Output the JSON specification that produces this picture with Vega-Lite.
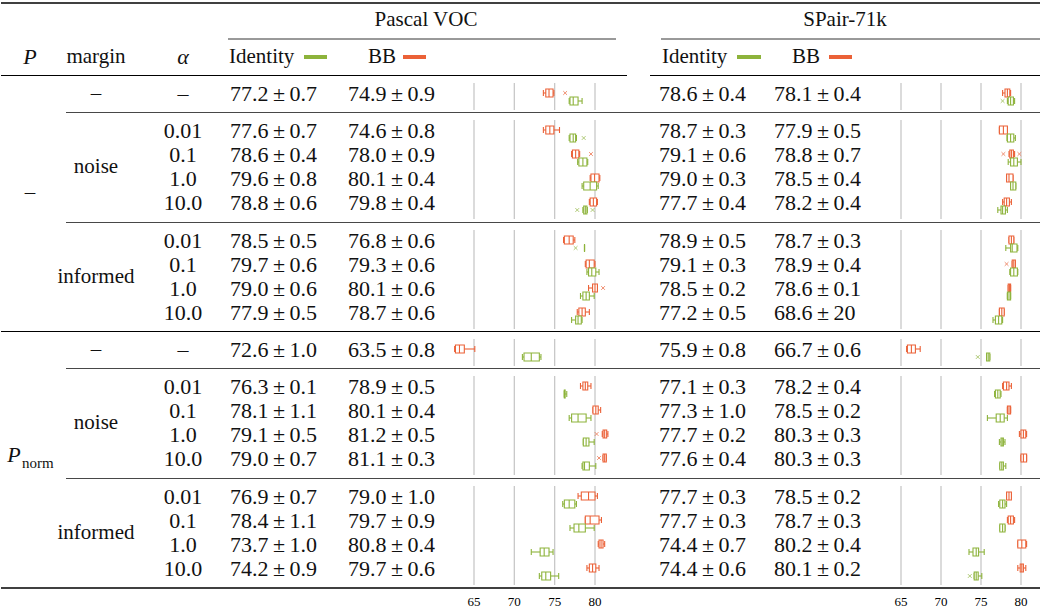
{
"$schema":"https://vega.github.io/schema/vega-lite/v6.json",
"width":1040,"height":609,"padding":0,
"autosize":{"type":"fit","contains":"padding"},
"background":"white",
"config":{"font":"Liberation Serif","view":{"stroke":null},"text":{"font":"Liberation Serif","fontSize":21,"color":"#111111","baseline":"middle"}},
"datasets":{
"rows":[
{"row":1,"P":"–","margin":"–","alpha":"–","grp":"g1"},
{"row":2,"P":"–","margin":"noise","alpha":"0.01","grp":"g2"},
{"row":3,"P":"–","margin":"noise","alpha":"0.1","grp":"g2"},
{"row":4,"P":"–","margin":"noise","alpha":"1.0","grp":"g2"},
{"row":5,"P":"–","margin":"noise","alpha":"10.0","grp":"g2"},
{"row":6,"P":"–","margin":"informed","alpha":"0.01","grp":"g3"},
{"row":7,"P":"–","margin":"informed","alpha":"0.1","grp":"g3"},
{"row":8,"P":"–","margin":"informed","alpha":"1.0","grp":"g3"},
{"row":9,"P":"–","margin":"informed","alpha":"10.0","grp":"g3"},
{"row":10,"P":"Pnorm","margin":"–","alpha":"–","grp":"g4"},
{"row":11,"P":"Pnorm","margin":"noise","alpha":"0.01","grp":"g5"},
{"row":12,"P":"Pnorm","margin":"noise","alpha":"0.1","grp":"g5"},
{"row":13,"P":"Pnorm","margin":"noise","alpha":"1.0","grp":"g5"},
{"row":14,"P":"Pnorm","margin":"noise","alpha":"10.0","grp":"g5"},
{"row":15,"P":"Pnorm","margin":"informed","alpha":"0.01","grp":"g6"},
{"row":16,"P":"Pnorm","margin":"informed","alpha":"0.1","grp":"g6"},
{"row":17,"P":"Pnorm","margin":"informed","alpha":"1.0","grp":"g6"},
{"row":18,"P":"Pnorm","margin":"informed","alpha":"10.0","grp":"g6"}
],
"res":[
{"row":1,"ds":"VOC","m":"Identity","mean":77.2,"sd":0.7,"lo":76.8,"q1":76.9,"med":77.3,"q3":77.9,"hi":78.4},
{"row":2,"ds":"VOC","m":"Identity","mean":77.6,"sd":0.7,"lo":76.8,"q1":76.9,"med":77.3,"q3":77.6,"hi":77.7},
{"row":3,"ds":"VOC","m":"Identity","mean":78.6,"sd":0.4,"lo":77.85,"q1":78.0,"med":78.5,"q3":79.0,"hi":79.1},
{"row":4,"ds":"VOC","m":"Identity","mean":79.6,"sd":0.8,"lo":78.4,"q1":78.6,"med":79.4,"q3":80.2,"hi":80.4},
{"row":5,"ds":"VOC","m":"Identity","mean":78.8,"sd":0.6,"lo":78.5,"q1":78.6,"med":78.8,"q3":79.0,"hi":79.05},
{"row":6,"ds":"VOC","m":"Identity","mean":78.5,"sd":0.5,"lo":78.7,"q1":78.7,"med":78.7,"q3":78.7,"hi":78.7},
{"row":7,"ds":"VOC","m":"Identity","mean":79.7,"sd":0.6,"lo":79.0,"q1":79.2,"med":79.6,"q3":80.1,"hi":80.5},
{"row":8,"ds":"VOC","m":"Identity","mean":79.0,"sd":0.6,"lo":78.2,"q1":78.5,"med":78.9,"q3":79.3,"hi":79.9},
{"row":9,"ds":"VOC","m":"Identity","mean":77.9,"sd":0.5,"lo":77.1,"q1":77.6,"med":77.9,"q3":78.3,"hi":78.4},
{"row":10,"ds":"VOC","m":"Identity","mean":72.6,"sd":1.0,"lo":71.0,"q1":71.2,"med":72.1,"q3":73.1,"hi":73.3},
{"row":11,"ds":"VOC","m":"Identity","mean":76.3,"sd":0.1,"lo":76.2,"q1":76.2,"med":76.2,"q3":76.3,"hi":76.5},
{"row":12,"ds":"VOC","m":"Identity","mean":78.1,"sd":1.1,"lo":76.8,"q1":77.1,"med":77.9,"q3":78.9,"hi":79.5},
{"row":13,"ds":"VOC","m":"Identity","mean":79.1,"sd":0.5,"lo":78.55,"q1":78.55,"med":78.9,"q3":79.25,"hi":79.9},
{"row":14,"ds":"VOC","m":"Identity","mean":79.0,"sd":0.7,"lo":78.4,"q1":78.5,"med":78.7,"q3":79.3,"hi":80.1},
{"row":15,"ds":"VOC","m":"Identity","mean":76.9,"sd":0.7,"lo":76.0,"q1":76.2,"med":76.8,"q3":77.5,"hi":77.7},
{"row":16,"ds":"VOC","m":"Identity","mean":78.4,"sd":1.1,"lo":76.9,"q1":77.4,"med":78.0,"q3":78.8,"hi":79.9},
{"row":17,"ds":"VOC","m":"Identity","mean":73.7,"sd":1.0,"lo":72.1,"q1":73.2,"med":73.7,"q3":74.3,"hi":74.8},
{"row":18,"ds":"VOC","m":"Identity","mean":74.2,"sd":0.9,"lo":73.1,"q1":73.4,"med":73.9,"q3":74.5,"hi":75.5},
{"row":1,"ds":"VOC","m":"BB","mean":74.9,"sd":0.9,"lo":73.6,"q1":73.9,"med":74.3,"q3":74.8,"hi":74.9},
{"row":2,"ds":"VOC","m":"BB","mean":74.6,"sd":0.8,"lo":73.6,"q1":73.9,"med":74.4,"q3":74.9,"hi":75.6},
{"row":3,"ds":"VOC","m":"BB","mean":78.0,"sd":0.9,"lo":77.1,"q1":77.2,"med":77.6,"q3":78.0,"hi":78.1},
{"row":4,"ds":"VOC","m":"BB","mean":80.1,"sd":0.4,"lo":79.4,"q1":79.5,"med":79.95,"q3":80.5,"hi":80.6},
{"row":5,"ds":"VOC","m":"BB","mean":79.8,"sd":0.4,"lo":79.3,"q1":79.4,"med":79.8,"q3":80.2,"hi":80.3},
{"row":6,"ds":"VOC","m":"BB","mean":76.8,"sd":0.6,"lo":76.1,"q1":76.2,"med":76.8,"q3":77.3,"hi":77.5},
{"row":7,"ds":"VOC","m":"BB","mean":79.3,"sd":0.6,"lo":78.8,"q1":78.9,"med":79.3,"q3":79.9,"hi":80.0},
{"row":8,"ds":"VOC","m":"BB","mean":80.1,"sd":0.6,"lo":79.2,"q1":79.7,"med":80.0,"q3":80.3,"hi":80.3},
{"row":9,"ds":"VOC","m":"BB","mean":78.7,"sd":0.6,"lo":77.8,"q1":78.0,"med":78.4,"q3":78.8,"hi":79.3},
{"row":10,"ds":"VOC","m":"BB","mean":63.5,"sd":0.8,"lo":62.6,"q1":62.7,"med":63.2,"q3":63.8,"hi":65.1},
{"row":11,"ds":"VOC","m":"BB","mean":78.9,"sd":0.5,"lo":78.2,"q1":78.5,"med":78.8,"q3":79.1,"hi":79.5},
{"row":12,"ds":"VOC","m":"BB","mean":80.1,"sd":0.4,"lo":79.75,"q1":79.75,"med":80.1,"q3":80.4,"hi":80.7},
{"row":13,"ds":"VOC","m":"BB","mean":81.2,"sd":0.5,"lo":80.9,"q1":81.0,"med":81.2,"q3":81.45,"hi":81.6},
{"row":14,"ds":"VOC","m":"BB","mean":81.1,"sd":0.3,"lo":81.0,"q1":81.0,"med":81.2,"q3":81.4,"hi":81.4},
{"row":15,"ds":"VOC","m":"BB","mean":79.0,"sd":1.0,"lo":77.9,"q1":78.3,"med":79.2,"q3":80.0,"hi":80.3},
{"row":16,"ds":"VOC","m":"BB","mean":79.7,"sd":0.9,"lo":78.8,"q1":78.8,"med":79.4,"q3":80.5,"hi":80.8},
{"row":17,"ds":"VOC","m":"BB","mean":80.8,"sd":0.4,"lo":80.4,"q1":80.5,"med":80.75,"q3":81.0,"hi":81.2},
{"row":18,"ds":"VOC","m":"BB","mean":79.7,"sd":0.6,"lo":79.0,"q1":79.3,"med":79.7,"q3":80.1,"hi":80.5},
{"row":1,"ds":"SPair","m":"Identity","mean":78.6,"sd":0.4,"lo":78.3,"q1":78.4,"med":78.7,"q3":79.05,"hi":79.2},
{"row":2,"ds":"SPair","m":"Identity","mean":78.7,"sd":0.3,"lo":78.25,"q1":78.3,"med":78.7,"q3":79.1,"hi":79.3},
{"row":3,"ds":"SPair","m":"Identity","mean":79.1,"sd":0.6,"lo":78.4,"q1":78.7,"med":79.1,"q3":79.55,"hi":80.0},
{"row":4,"ds":"SPair","m":"Identity","mean":79.0,"sd":0.3,"lo":78.7,"q1":78.7,"med":79.0,"q3":79.35,"hi":79.35},
{"row":5,"ds":"SPair","m":"Identity","mean":77.7,"sd":0.4,"lo":77.1,"q1":77.5,"med":77.7,"q3":78.05,"hi":78.3},
{"row":6,"ds":"SPair","m":"Identity","mean":78.9,"sd":0.5,"lo":78.1,"q1":78.7,"med":78.9,"q3":79.5,"hi":79.6},
{"row":7,"ds":"SPair","m":"Identity","mean":79.1,"sd":0.3,"lo":78.6,"q1":78.7,"med":79.1,"q3":79.55,"hi":79.6},
{"row":8,"ds":"SPair","m":"Identity","mean":78.5,"sd":0.2,"lo":78.3,"q1":78.3,"med":78.5,"q3":78.7,"hi":78.7},
{"row":9,"ds":"SPair","m":"Identity","mean":77.2,"sd":0.5,"lo":76.5,"q1":76.8,"med":77.2,"q3":77.6,"hi":77.7},
{"row":10,"ds":"SPair","m":"Identity","mean":75.9,"sd":0.8,"lo":75.7,"q1":75.7,"med":75.9,"q3":76.1,"hi":76.1},
{"row":11,"ds":"SPair","m":"Identity","mean":77.1,"sd":0.3,"lo":76.7,"q1":76.8,"med":77.1,"q3":77.4,"hi":77.5},
{"row":12,"ds":"SPair","m":"Identity","mean":77.3,"sd":1.0,"lo":75.8,"q1":76.9,"med":77.4,"q3":77.9,"hi":78.3},
{"row":13,"ds":"SPair","m":"Identity","mean":77.7,"sd":0.2,"lo":77.3,"q1":77.5,"med":77.65,"q3":77.8,"hi":78.0},
{"row":14,"ds":"SPair","m":"Identity","mean":77.6,"sd":0.4,"lo":77.35,"q1":77.35,"med":77.6,"q3":77.8,"hi":78.1},
{"row":15,"ds":"SPair","m":"Identity","mean":77.7,"sd":0.3,"lo":77.2,"q1":77.35,"med":77.7,"q3":78.0,"hi":78.2},
{"row":16,"ds":"SPair","m":"Identity","mean":77.7,"sd":0.3,"lo":77.35,"q1":77.35,"med":77.7,"q3":78.0,"hi":78.0},
{"row":17,"ds":"SPair","m":"Identity","mean":74.4,"sd":0.7,"lo":73.5,"q1":74.0,"med":74.4,"q3":74.7,"hi":75.4},
{"row":18,"ds":"SPair","m":"Identity","mean":74.4,"sd":0.6,"lo":74.15,"q1":74.15,"med":74.4,"q3":74.65,"hi":75.1},
{"row":1,"ds":"SPair","m":"BB","mean":78.1,"sd":0.4,"lo":77.7,"q1":78.0,"med":78.3,"q3":78.6,"hi":78.7},
{"row":2,"ds":"SPair","m":"BB","mean":77.9,"sd":0.5,"lo":77.3,"q1":77.3,"med":77.8,"q3":78.3,"hi":78.3},
{"row":3,"ds":"SPair","m":"BB","mean":78.8,"sd":0.7,"lo":78.5,"q1":78.6,"med":78.8,"q3":79.05,"hi":79.2},
{"row":4,"ds":"SPair","m":"BB","mean":78.5,"sd":0.4,"lo":78.2,"q1":78.2,"med":78.5,"q3":79.0,"hi":79.0},
{"row":5,"ds":"SPair","m":"BB","mean":78.2,"sd":0.4,"lo":77.7,"q1":77.9,"med":78.2,"q3":78.55,"hi":78.8},
{"row":6,"ds":"SPair","m":"BB","mean":78.7,"sd":0.3,"lo":78.5,"q1":78.5,"med":78.8,"q3":79.1,"hi":79.1},
{"row":7,"ds":"SPair","m":"BB","mean":78.9,"sd":0.4,"lo":78.9,"q1":78.9,"med":79.1,"q3":79.3,"hi":79.3},
{"row":8,"ds":"SPair","m":"BB","mean":78.6,"sd":0.1,"lo":78.4,"q1":78.4,"med":78.55,"q3":78.7,"hi":78.7},
{"row":9,"ds":"SPair","m":"BB","mean":68.6,"sd":20,"lo":77.3,"q1":77.3,"med":77.6,"q3":77.9,"hi":77.9},
{"row":10,"ds":"SPair","m":"BB","mean":66.7,"sd":0.6,"lo":65.7,"q1":65.8,"med":66.3,"q3":66.8,"hi":67.4},
{"row":11,"ds":"SPair","m":"BB","mean":78.2,"sd":0.4,"lo":77.7,"q1":77.8,"med":78.2,"q3":78.5,"hi":78.8},
{"row":12,"ds":"SPair","m":"BB","mean":78.5,"sd":0.2,"lo":78.3,"q1":78.3,"med":78.5,"q3":78.7,"hi":78.7},
{"row":13,"ds":"SPair","m":"BB","mean":80.3,"sd":0.3,"lo":79.8,"q1":80.0,"med":80.3,"q3":80.6,"hi":80.7},
{"row":14,"ds":"SPair","m":"BB","mean":80.3,"sd":0.3,"lo":80.0,"q1":80.0,"med":80.3,"q3":80.7,"hi":80.7},
{"row":15,"ds":"SPair","m":"BB","mean":78.5,"sd":0.2,"lo":78.2,"q1":78.2,"med":78.5,"q3":78.8,"hi":78.8},
{"row":16,"ds":"SPair","m":"BB","mean":78.7,"sd":0.3,"lo":78.3,"q1":78.4,"med":78.7,"q3":79.05,"hi":79.2},
{"row":17,"ds":"SPair","m":"BB","mean":80.2,"sd":0.4,"lo":79.6,"q1":79.6,"med":80.1,"q3":80.6,"hi":80.7},
{"row":18,"ds":"SPair","m":"BB","mean":80.1,"sd":0.2,"lo":79.6,"q1":79.9,"med":80.1,"q3":80.3,"hi":80.6}
],
"out":[
{"row":1,"ds":"VOC","m":"BB","v":76.3},
{"row":3,"ds":"VOC","m":"BB","v":79.5},
{"row":8,"ds":"VOC","m":"BB","v":81.0},
{"row":13,"ds":"VOC","m":"BB","v":80.2},
{"row":14,"ds":"VOC","m":"BB","v":80.5},
{"row":2,"ds":"VOC","m":"Identity","v":78.6},
{"row":5,"ds":"VOC","m":"Identity","v":77.8},
{"row":5,"ds":"VOC","m":"Identity","v":79.7},
{"row":6,"ds":"VOC","m":"Identity","v":77.6},
{"row":3,"ds":"SPair","m":"BB","v":77.8},
{"row":3,"ds":"SPair","m":"BB","v":79.8},
{"row":7,"ds":"SPair","m":"BB","v":78.2},
{"row":1,"ds":"SPair","m":"Identity","v":77.7},
{"row":10,"ds":"SPair","m":"Identity","v":74.6},
{"row":18,"ds":"SPair","m":"Identity","v":73.6}
],
"ticks":[{"t":65},{"t":70},{"t":75},{"t":80}]
},
"resolve":{"scale":{"x":"independent"}},
"layer":[
{"layer":[
{"data":{"values":[{}]},"mark":{"type":"rule","color":"#000000","strokeWidth":1.6},"encoding":{"x":{"datum":0,"type":"quantitative","scale":{"domain":[0,1040],"range":[0,1040],"nice":false,"zero":false},"axis":null},"x2":{"datum":1040},"y":{"datum":-1.5,"type":"quantitative","scale":{"domain":[-1.5,-1,-0.5,0,1,2,5,6,9,10,11,14,15,18,18.5,19],"range":[3,20,39,57,94,131,203,241,313,350,387,459,497,569,588,602],"nice":false,"zero":false},"axis":null}}},
{"data":{"values":[{}]},"mark":{"type":"rule","color":"#000000","strokeWidth":0.8},"encoding":{"x":{"datum":227,"type":"quantitative","scale":{"domain":[0,1040],"range":[0,1040],"nice":false,"zero":false},"axis":null},"x2":{"datum":615},"y":{"datum":-0.5,"type":"quantitative","scale":{"domain":[-1.5,-1,-0.5,0,1,2,5,6,9,10,11,14,15,18,18.5,19],"range":[3,20,39,57,94,131,203,241,313,350,387,459,497,569,588,602],"nice":false,"zero":false},"axis":null}}},
{"data":{"values":[{}]},"mark":{"type":"rule","color":"#000000","strokeWidth":0.8},"encoding":{"x":{"datum":660,"type":"quantitative","scale":{"domain":[0,1040],"range":[0,1040],"nice":false,"zero":false},"axis":null},"x2":{"datum":1040},"y":{"datum":-0.5,"type":"quantitative","scale":{"domain":[-1.5,-1,-0.5,0,1,2,5,6,9,10,11,14,15,18,18.5,19],"range":[3,20,39,57,94,131,203,241,313,350,387,459,497,569,588,602],"nice":false,"zero":false},"axis":null}}},
{"data":{"values":[{}]},"mark":{"type":"rule","color":"#000000","strokeWidth":1.0},"encoding":{"x":{"datum":0,"type":"quantitative","scale":{"domain":[0,1040],"range":[0,1040],"nice":false,"zero":false},"axis":null},"x2":{"datum":626},"y":{"datum":0.5,"type":"quantitative","scale":{"domain":[-1.5,-1,-0.5,0,1,2,5,6,9,10,11,14,15,18,18.5,19],"range":[3,20,39,57,94,131,203,241,313,350,387,459,497,569,588,602],"nice":false,"zero":false},"axis":null}}},
{"data":{"values":[{}]},"mark":{"type":"rule","color":"#000000","strokeWidth":1.0},"encoding":{"x":{"datum":649,"type":"quantitative","scale":{"domain":[0,1040],"range":[0,1040],"nice":false,"zero":false},"axis":null},"x2":{"datum":1040},"y":{"datum":0.5,"type":"quantitative","scale":{"domain":[-1.5,-1,-0.5,0,1,2,5,6,9,10,11,14,15,18,18.5,19],"range":[3,20,39,57,94,131,203,241,313,350,387,459,497,569,588,602],"nice":false,"zero":false},"axis":null}}},
{"data":{"values":[{}]},"mark":{"type":"rule","color":"#000000","strokeWidth":1.0},"encoding":{"x":{"datum":0,"type":"quantitative","scale":{"domain":[0,1040],"range":[0,1040],"nice":false,"zero":false},"axis":null},"x2":{"datum":1040},"y":{"datum":9.5,"type":"quantitative","scale":{"domain":[-1.5,-1,-0.5,0,1,2,5,6,9,10,11,14,15,18,18.5,19],"range":[3,20,39,57,94,131,203,241,313,350,387,459,497,569,588,602],"nice":false,"zero":false},"axis":null}}},
{"data":{"values":[{}]},"mark":{"type":"rule","color":"#000000","strokeWidth":1.6},"encoding":{"x":{"datum":0,"type":"quantitative","scale":{"domain":[0,1040],"range":[0,1040],"nice":false,"zero":false},"axis":null},"x2":{"datum":1040},"y":{"datum":18.5,"type":"quantitative","scale":{"domain":[-1.5,-1,-0.5,0,1,2,5,6,9,10,11,14,15,18,18.5,19],"range":[3,20,39,57,94,131,203,241,313,350,387,459,497,569,588,602],"nice":false,"zero":false},"axis":null}}},
{"data":{"name":"rows"},"transform":[{"filter":"datum.margin != '–'"}],"mark":{"type":"rule","color":"#333333","strokeWidth":0.9,"yOffset":-18.5},"encoding":{"x":{"datum":65,"type":"quantitative","scale":{"domain":[0,1040],"range":[0,1040],"nice":false,"zero":false},"axis":null},"x2":{"datum":1040},"y":{"field":"row","aggregate":"min","type":"quantitative","scale":{"domain":[-1.5,-1,-0.5,0,1,2,5,6,9,10,11,14,15,18,18.5,19],"range":[3,20,39,57,94,131,203,241,313,350,387,459,497,569,588,602],"nice":false,"zero":false},"axis":null},"detail":{"field":"grp"}}},
{"data":{"values":[{}]},"mark":{"type":"text","align":"center"},"encoding":{"x":{"datum":425,"type":"quantitative","scale":{"domain":[0,1040],"range":[0,1040],"nice":false,"zero":false},"axis":null},"y":{"datum":-1,"type":"quantitative","scale":{"domain":[-1.5,-1,-0.5,0,1,2,5,6,9,10,11,14,15,18,18.5,19],"range":[3,20,39,57,94,131,203,241,313,350,387,459,497,569,588,602],"nice":false,"zero":false},"axis":null},"text":{"value":"Pascal VOC"}}},
{"data":{"values":[{}]},"mark":{"type":"text","align":"center"},"encoding":{"x":{"datum":844,"type":"quantitative","scale":{"domain":[0,1040],"range":[0,1040],"nice":false,"zero":false},"axis":null},"y":{"datum":-1,"type":"quantitative","scale":{"domain":[-1.5,-1,-0.5,0,1,2,5,6,9,10,11,14,15,18,18.5,19],"range":[3,20,39,57,94,131,203,241,313,350,387,459,497,569,588,602],"nice":false,"zero":false},"axis":null},"text":{"value":"SPair-71k"}}},
{"data":{"values":[{}]},"mark":{"type":"text","align":"center","fontStyle":"italic","fontSize":22},"encoding":{"x":{"datum":29,"type":"quantitative","scale":{"domain":[0,1040],"range":[0,1040],"nice":false,"zero":false},"axis":null},"y":{"datum":0,"type":"quantitative","scale":{"domain":[-1.5,-1,-0.5,0,1,2,5,6,9,10,11,14,15,18,18.5,19],"range":[3,20,39,57,94,131,203,241,313,350,387,459,497,569,588,602],"nice":false,"zero":false},"axis":null},"text":{"value":"P"}}},
{"data":{"values":[{}]},"mark":{"type":"text","align":"center"},"encoding":{"x":{"datum":95,"type":"quantitative","scale":{"domain":[0,1040],"range":[0,1040],"nice":false,"zero":false},"axis":null},"y":{"datum":0,"type":"quantitative","scale":{"domain":[-1.5,-1,-0.5,0,1,2,5,6,9,10,11,14,15,18,18.5,19],"range":[3,20,39,57,94,131,203,241,313,350,387,459,497,569,588,602],"nice":false,"zero":false},"axis":null},"text":{"value":"margin"}}},
{"data":{"values":[{}]},"mark":{"type":"text","align":"center","fontStyle":"italic","fontSize":22},"encoding":{"x":{"datum":182,"type":"quantitative","scale":{"domain":[0,1040],"range":[0,1040],"nice":false,"zero":false},"axis":null},"y":{"datum":0,"type":"quantitative","scale":{"domain":[-1.5,-1,-0.5,0,1,2,5,6,9,10,11,14,15,18,18.5,19],"range":[3,20,39,57,94,131,203,241,313,350,387,459,497,569,588,602],"nice":false,"zero":false},"axis":null},"text":{"value":"α"}}},
{"data":{"values":[{}]},"mark":{"type":"text","align":"left"},"encoding":{"x":{"datum":228,"type":"quantitative","scale":{"domain":[0,1040],"range":[0,1040],"nice":false,"zero":false},"axis":null},"y":{"datum":0,"type":"quantitative","scale":{"domain":[-1.5,-1,-0.5,0,1,2,5,6,9,10,11,14,15,18,18.5,19],"range":[3,20,39,57,94,131,203,241,313,350,387,459,497,569,588,602],"nice":false,"zero":false},"axis":null},"text":{"value":"Identity"}}},
{"data":{"values":[{}]},"mark":{"type":"text","align":"left"},"encoding":{"x":{"datum":367,"type":"quantitative","scale":{"domain":[0,1040],"range":[0,1040],"nice":false,"zero":false},"axis":null},"y":{"datum":0,"type":"quantitative","scale":{"domain":[-1.5,-1,-0.5,0,1,2,5,6,9,10,11,14,15,18,18.5,19],"range":[3,20,39,57,94,131,203,241,313,350,387,459,497,569,588,602],"nice":false,"zero":false},"axis":null},"text":{"value":"BB"}}},
{"data":{"values":[{}]},"mark":{"type":"text","align":"left"},"encoding":{"x":{"datum":661,"type":"quantitative","scale":{"domain":[0,1040],"range":[0,1040],"nice":false,"zero":false},"axis":null},"y":{"datum":0,"type":"quantitative","scale":{"domain":[-1.5,-1,-0.5,0,1,2,5,6,9,10,11,14,15,18,18.5,19],"range":[3,20,39,57,94,131,203,241,313,350,387,459,497,569,588,602],"nice":false,"zero":false},"axis":null},"text":{"value":"Identity"}}},
{"data":{"values":[{}]},"mark":{"type":"text","align":"left"},"encoding":{"x":{"datum":791,"type":"quantitative","scale":{"domain":[0,1040],"range":[0,1040],"nice":false,"zero":false},"axis":null},"y":{"datum":0,"type":"quantitative","scale":{"domain":[-1.5,-1,-0.5,0,1,2,5,6,9,10,11,14,15,18,18.5,19],"range":[3,20,39,57,94,131,203,241,313,350,387,459,497,569,588,602],"nice":false,"zero":false},"axis":null},"text":{"value":"BB"}}},
{"data":{"values":[{}]},"mark":{"type":"rule","color":"#8db33b","strokeWidth":4},"encoding":{"x":{"datum":303,"type":"quantitative","scale":{"domain":[0,1040],"range":[0,1040],"nice":false,"zero":false},"axis":null},"x2":{"datum":326},"y":{"datum":0,"type":"quantitative","scale":{"domain":[-1.5,-1,-0.5,0,1,2,5,6,9,10,11,14,15,18,18.5,19],"range":[3,20,39,57,94,131,203,241,313,350,387,459,497,569,588,602],"nice":false,"zero":false},"axis":null}}},
{"data":{"values":[{}]},"mark":{"type":"rule","color":"#eb6137","strokeWidth":4},"encoding":{"x":{"datum":402,"type":"quantitative","scale":{"domain":[0,1040],"range":[0,1040],"nice":false,"zero":false},"axis":null},"x2":{"datum":425},"y":{"datum":0,"type":"quantitative","scale":{"domain":[-1.5,-1,-0.5,0,1,2,5,6,9,10,11,14,15,18,18.5,19],"range":[3,20,39,57,94,131,203,241,313,350,387,459,497,569,588,602],"nice":false,"zero":false},"axis":null}}},
{"data":{"values":[{}]},"mark":{"type":"rule","color":"#8db33b","strokeWidth":4},"encoding":{"x":{"datum":736,"type":"quantitative","scale":{"domain":[0,1040],"range":[0,1040],"nice":false,"zero":false},"axis":null},"x2":{"datum":760},"y":{"datum":0,"type":"quantitative","scale":{"domain":[-1.5,-1,-0.5,0,1,2,5,6,9,10,11,14,15,18,18.5,19],"range":[3,20,39,57,94,131,203,241,313,350,387,459,497,569,588,602],"nice":false,"zero":false},"axis":null}}},
{"data":{"values":[{}]},"mark":{"type":"rule","color":"#eb6137","strokeWidth":4},"encoding":{"x":{"datum":828,"type":"quantitative","scale":{"domain":[0,1040],"range":[0,1040],"nice":false,"zero":false},"axis":null},"x2":{"datum":851},"y":{"datum":0,"type":"quantitative","scale":{"domain":[-1.5,-1,-0.5,0,1,2,5,6,9,10,11,14,15,18,18.5,19],"range":[3,20,39,57,94,131,203,241,313,350,387,459,497,569,588,602],"nice":false,"zero":false},"axis":null}}},
{"data":{"name":"rows"},"mark":{"type":"text","align":"center","fontSize":22},"encoding":{"x":{"datum":182,"type":"quantitative","scale":{"domain":[0,1040],"range":[0,1040],"nice":false,"zero":false},"axis":null},"y":{"field":"row","type":"quantitative","scale":{"domain":[-1.5,-1,-0.5,0,1,2,5,6,9,10,11,14,15,18,18.5,19],"range":[3,20,39,57,94,131,203,241,313,350,387,459,497,569,588,602],"nice":false,"zero":false},"axis":null},"text":{"field":"alpha"}}},
{"data":{"name":"rows"},"mark":{"type":"text","align":"center"},"encoding":{"x":{"datum":95,"type":"quantitative","scale":{"domain":[0,1040],"range":[0,1040],"nice":false,"zero":false},"axis":null},"y":{"field":"row","aggregate":"mean","type":"quantitative","scale":{"domain":[-1.5,-1,-0.5,0,1,2,5,6,9,10,11,14,15,18,18.5,19],"range":[3,20,39,57,94,131,203,241,313,350,387,459,497,569,588,602],"nice":false,"zero":false},"axis":null},"text":{"field":"margin"},"detail":{"field":"P"}}},
{"data":{"name":"rows"},"transform":[{"filter":"datum.P == '–'"}],"mark":{"type":"text","align":"center","dy":-10},"encoding":{"x":{"datum":29,"type":"quantitative","scale":{"domain":[0,1040],"range":[0,1040],"nice":false,"zero":false},"axis":null},"y":{"field":"row","aggregate":"mean","type":"quantitative","scale":{"domain":[-1.5,-1,-0.5,0,1,2,5,6,9,10,11,14,15,18,18.5,19],"range":[3,20,39,57,94,131,203,241,313,350,387,459,497,569,588,602],"nice":false,"zero":false},"axis":null},"text":{"field":"P"}}},
{"data":{"name":"rows"},"transform":[{"filter":"datum.P == 'Pnorm'"}],"mark":{"type":"text","align":"center","fontStyle":"italic","fontSize":22,"dy":-4},"encoding":{"x":{"datum":13,"type":"quantitative","scale":{"domain":[0,1040],"range":[0,1040],"nice":false,"zero":false},"axis":null},"y":{"field":"row","aggregate":"mean","type":"quantitative","scale":{"domain":[-1.5,-1,-0.5,0,1,2,5,6,9,10,11,14,15,18,18.5,19],"range":[3,20,39,57,94,131,203,241,313,350,387,459,497,569,588,602],"nice":false,"zero":false},"axis":null},"text":{"value":"P"}}},
{"data":{"name":"rows"},"transform":[{"filter":"datum.P == 'Pnorm'"}],"mark":{"type":"text","align":"left","fontSize":15,"dy":4},"encoding":{"x":{"datum":21,"type":"quantitative","scale":{"domain":[0,1040],"range":[0,1040],"nice":false,"zero":false},"axis":null},"y":{"field":"row","aggregate":"mean","type":"quantitative","scale":{"domain":[-1.5,-1,-0.5,0,1,2,5,6,9,10,11,14,15,18,18.5,19],"range":[3,20,39,57,94,131,203,241,313,350,387,459,497,569,588,602],"nice":false,"zero":false},"axis":null},"text":{"value":"norm"}}},
{"data":{"name":"res"},"transform":[{"filter":"datum.ds=='VOC' && datum.m=='Identity'"}],"mark":{"type":"text","align":"right","fontSize":22},"encoding":{"x":{"datum":267.5,"type":"quantitative","scale":{"domain":[0,1040],"range":[0,1040],"nice":false,"zero":false},"axis":null},"y":{"field":"row","type":"quantitative","scale":{"domain":[-1.5,-1,-0.5,0,1,2,5,6,9,10,11,14,15,18,18.5,19],"range":[3,20,39,57,94,131,203,241,313,350,387,459,497,569,588,602],"nice":false,"zero":false},"axis":null},"text":{"field":"mean","type":"quantitative","format":".1f"}}},
{"data":{"name":"res"},"transform":[{"filter":"datum.ds=='VOC' && datum.m=='Identity'"}],"mark":{"type":"text","align":"center","fontSize":22},"encoding":{"x":{"datum":278,"type":"quantitative","scale":{"domain":[0,1040],"range":[0,1040],"nice":false,"zero":false},"axis":null},"y":{"field":"row","type":"quantitative","scale":{"domain":[-1.5,-1,-0.5,0,1,2,5,6,9,10,11,14,15,18,18.5,19],"range":[3,20,39,57,94,131,203,241,313,350,387,459,497,569,588,602],"nice":false,"zero":false},"axis":null},"text":{"value":"±"}}},
{"data":{"name":"res"},"transform":[{"filter":"datum.ds=='VOC' && datum.m=='Identity'"}],"mark":{"type":"text","align":"left","fontSize":22},"encoding":{"x":{"datum":288.5,"type":"quantitative","scale":{"domain":[0,1040],"range":[0,1040],"nice":false,"zero":false},"axis":null},"y":{"field":"row","type":"quantitative","scale":{"domain":[-1.5,-1,-0.5,0,1,2,5,6,9,10,11,14,15,18,18.5,19],"range":[3,20,39,57,94,131,203,241,313,350,387,459,497,569,588,602],"nice":false,"zero":false},"axis":null},"text":{"field":"sd","type":"quantitative","format":".1f","condition":{"test":"datum.sd >= 10","value":{"expr":"format(datum.sd, 'd')"}}}}},
{"data":{"name":"res"},"transform":[{"filter":"datum.ds=='VOC' && datum.m=='BB'"}],"mark":{"type":"text","align":"right","fontSize":22},"encoding":{"x":{"datum":385.5,"type":"quantitative","scale":{"domain":[0,1040],"range":[0,1040],"nice":false,"zero":false},"axis":null},"y":{"field":"row","type":"quantitative","scale":{"domain":[-1.5,-1,-0.5,0,1,2,5,6,9,10,11,14,15,18,18.5,19],"range":[3,20,39,57,94,131,203,241,313,350,387,459,497,569,588,602],"nice":false,"zero":false},"axis":null},"text":{"field":"mean","type":"quantitative","format":".1f"}}},
{"data":{"name":"res"},"transform":[{"filter":"datum.ds=='VOC' && datum.m=='BB'"}],"mark":{"type":"text","align":"center","fontSize":22},"encoding":{"x":{"datum":396,"type":"quantitative","scale":{"domain":[0,1040],"range":[0,1040],"nice":false,"zero":false},"axis":null},"y":{"field":"row","type":"quantitative","scale":{"domain":[-1.5,-1,-0.5,0,1,2,5,6,9,10,11,14,15,18,18.5,19],"range":[3,20,39,57,94,131,203,241,313,350,387,459,497,569,588,602],"nice":false,"zero":false},"axis":null},"text":{"value":"±"}}},
{"data":{"name":"res"},"transform":[{"filter":"datum.ds=='VOC' && datum.m=='BB'"}],"mark":{"type":"text","align":"left","fontSize":22},"encoding":{"x":{"datum":406.5,"type":"quantitative","scale":{"domain":[0,1040],"range":[0,1040],"nice":false,"zero":false},"axis":null},"y":{"field":"row","type":"quantitative","scale":{"domain":[-1.5,-1,-0.5,0,1,2,5,6,9,10,11,14,15,18,18.5,19],"range":[3,20,39,57,94,131,203,241,313,350,387,459,497,569,588,602],"nice":false,"zero":false},"axis":null},"text":{"field":"sd","type":"quantitative","format":".1f","condition":{"test":"datum.sd >= 10","value":{"expr":"format(datum.sd, 'd')"}}}}},
{"data":{"name":"res"},"transform":[{"filter":"datum.ds=='SPair' && datum.m=='Identity'"}],"mark":{"type":"text","align":"right","fontSize":22},"encoding":{"x":{"datum":696.5,"type":"quantitative","scale":{"domain":[0,1040],"range":[0,1040],"nice":false,"zero":false},"axis":null},"y":{"field":"row","type":"quantitative","scale":{"domain":[-1.5,-1,-0.5,0,1,2,5,6,9,10,11,14,15,18,18.5,19],"range":[3,20,39,57,94,131,203,241,313,350,387,459,497,569,588,602],"nice":false,"zero":false},"axis":null},"text":{"field":"mean","type":"quantitative","format":".1f"}}},
{"data":{"name":"res"},"transform":[{"filter":"datum.ds=='SPair' && datum.m=='Identity'"}],"mark":{"type":"text","align":"center","fontSize":22},"encoding":{"x":{"datum":707,"type":"quantitative","scale":{"domain":[0,1040],"range":[0,1040],"nice":false,"zero":false},"axis":null},"y":{"field":"row","type":"quantitative","scale":{"domain":[-1.5,-1,-0.5,0,1,2,5,6,9,10,11,14,15,18,18.5,19],"range":[3,20,39,57,94,131,203,241,313,350,387,459,497,569,588,602],"nice":false,"zero":false},"axis":null},"text":{"value":"±"}}},
{"data":{"name":"res"},"transform":[{"filter":"datum.ds=='SPair' && datum.m=='Identity'"}],"mark":{"type":"text","align":"left","fontSize":22},"encoding":{"x":{"datum":717.5,"type":"quantitative","scale":{"domain":[0,1040],"range":[0,1040],"nice":false,"zero":false},"axis":null},"y":{"field":"row","type":"quantitative","scale":{"domain":[-1.5,-1,-0.5,0,1,2,5,6,9,10,11,14,15,18,18.5,19],"range":[3,20,39,57,94,131,203,241,313,350,387,459,497,569,588,602],"nice":false,"zero":false},"axis":null},"text":{"field":"sd","type":"quantitative","format":".1f","condition":{"test":"datum.sd >= 10","value":{"expr":"format(datum.sd, 'd')"}}}}},
{"data":{"name":"res"},"transform":[{"filter":"datum.ds=='SPair' && datum.m=='BB'"}],"mark":{"type":"text","align":"right","fontSize":22},"encoding":{"x":{"datum":811.5,"type":"quantitative","scale":{"domain":[0,1040],"range":[0,1040],"nice":false,"zero":false},"axis":null},"y":{"field":"row","type":"quantitative","scale":{"domain":[-1.5,-1,-0.5,0,1,2,5,6,9,10,11,14,15,18,18.5,19],"range":[3,20,39,57,94,131,203,241,313,350,387,459,497,569,588,602],"nice":false,"zero":false},"axis":null},"text":{"field":"mean","type":"quantitative","format":".1f"}}},
{"data":{"name":"res"},"transform":[{"filter":"datum.ds=='SPair' && datum.m=='BB'"}],"mark":{"type":"text","align":"center","fontSize":22},"encoding":{"x":{"datum":822,"type":"quantitative","scale":{"domain":[0,1040],"range":[0,1040],"nice":false,"zero":false},"axis":null},"y":{"field":"row","type":"quantitative","scale":{"domain":[-1.5,-1,-0.5,0,1,2,5,6,9,10,11,14,15,18,18.5,19],"range":[3,20,39,57,94,131,203,241,313,350,387,459,497,569,588,602],"nice":false,"zero":false},"axis":null},"text":{"value":"±"}}},
{"data":{"name":"res"},"transform":[{"filter":"datum.ds=='SPair' && datum.m=='BB'"}],"mark":{"type":"text","align":"left","fontSize":22},"encoding":{"x":{"datum":832.5,"type":"quantitative","scale":{"domain":[0,1040],"range":[0,1040],"nice":false,"zero":false},"axis":null},"y":{"field":"row","type":"quantitative","scale":{"domain":[-1.5,-1,-0.5,0,1,2,5,6,9,10,11,14,15,18,18.5,19],"range":[3,20,39,57,94,131,203,241,313,350,387,459,497,569,588,602],"nice":false,"zero":false},"axis":null},"text":{"field":"sd","type":"quantitative","format":".1f","condition":{"test":"datum.sd >= 10","value":{"expr":"format(datum.sd, 'd')"}}}}}
]},
{"layer":[
{"data":{"name":"rows"},"mark":{"type":"rule","color":"#c8c8c8","strokeWidth":1.3,"yOffset":-11,"y2Offset":16},"encoding":{"x":{"datum":65,"type":"quantitative","scale":{"domain":[6.364,135.29],"range":[0,1040],"nice":false,"zero":false},"axis":null},"y":{"field":"row","aggregate":"min","type":"quantitative","scale":{"domain":[-1.5,-1,-0.5,0,1,2,5,6,9,10,11,14,15,18,18.5,19],"range":[3,20,39,57,94,131,203,241,313,350,387,459,497,569,588,602],"nice":false,"zero":false},"axis":null},"y2":{"field":"row","aggregate":"max"},"detail":{"field":"grp"}}},
{"data":{"name":"rows"},"mark":{"type":"rule","color":"#c8c8c8","strokeWidth":1.3,"yOffset":-11,"y2Offset":16},"encoding":{"x":{"datum":70,"type":"quantitative","scale":{"domain":[6.364,135.29],"range":[0,1040],"nice":false,"zero":false},"axis":null},"y":{"field":"row","aggregate":"min","type":"quantitative","scale":{"domain":[-1.5,-1,-0.5,0,1,2,5,6,9,10,11,14,15,18,18.5,19],"range":[3,20,39,57,94,131,203,241,313,350,387,459,497,569,588,602],"nice":false,"zero":false},"axis":null},"y2":{"field":"row","aggregate":"max"},"detail":{"field":"grp"}}},
{"data":{"name":"rows"},"mark":{"type":"rule","color":"#c8c8c8","strokeWidth":1.3,"yOffset":-11,"y2Offset":16},"encoding":{"x":{"datum":75,"type":"quantitative","scale":{"domain":[6.364,135.29],"range":[0,1040],"nice":false,"zero":false},"axis":null},"y":{"field":"row","aggregate":"min","type":"quantitative","scale":{"domain":[-1.5,-1,-0.5,0,1,2,5,6,9,10,11,14,15,18,18.5,19],"range":[3,20,39,57,94,131,203,241,313,350,387,459,497,569,588,602],"nice":false,"zero":false},"axis":null},"y2":{"field":"row","aggregate":"max"},"detail":{"field":"grp"}}},
{"data":{"name":"rows"},"mark":{"type":"rule","color":"#c8c8c8","strokeWidth":1.3,"yOffset":-11,"y2Offset":16},"encoding":{"x":{"datum":80,"type":"quantitative","scale":{"domain":[6.364,135.29],"range":[0,1040],"nice":false,"zero":false},"axis":null},"y":{"field":"row","aggregate":"min","type":"quantitative","scale":{"domain":[-1.5,-1,-0.5,0,1,2,5,6,9,10,11,14,15,18,18.5,19],"range":[3,20,39,57,94,131,203,241,313,350,387,459,497,569,588,602],"nice":false,"zero":false},"axis":null},"y2":{"field":"row","aggregate":"max"},"detail":{"field":"grp"}}},
{"data":{"name":"ticks"},"mark":{"type":"text","align":"center","fontSize":13,"color":"#000000"},"encoding":{"x":{"field":"t","type":"quantitative","scale":{"domain":[6.364,135.29],"range":[0,1040],"nice":false,"zero":false},"axis":null},"y":{"datum":19,"type":"quantitative","scale":{"domain":[-1.5,-1,-0.5,0,1,2,5,6,9,10,11,14,15,18,18.5,19],"range":[3,20,39,57,94,131,203,241,313,350,387,459,497,569,588,602],"nice":false,"zero":false},"axis":null},"text":{"field":"t","type":"quantitative"}}},
{"data":{"name":"res"},"transform":[{"filter":"datum.ds=='VOC' && datum.m=='BB'"}],"mark":{"type":"rule","color":"#eb6137","strokeWidth":1.1,"yOffset":-1},"encoding":{"x":{"field":"lo","type":"quantitative","scale":{"domain":[6.364,135.29],"range":[0,1040],"nice":false,"zero":false},"axis":null},"x2":{"field":"hi"},"y":{"field":"row","type":"quantitative","scale":{"domain":[-1.5,-1,-0.5,0,1,2,5,6,9,10,11,14,15,18,18.5,19],"range":[3,20,39,57,94,131,203,241,313,350,387,459,497,569,588,602],"nice":false,"zero":false},"axis":null}}},
{"data":{"name":"res"},"transform":[{"filter":"datum.ds=='VOC' && datum.m=='BB'"}],"mark":{"type":"rule","color":"#eb6137","strokeWidth":1.1,"yOffset":-4,"y2Offset":2},"encoding":{"x":{"field":"lo","type":"quantitative","scale":{"domain":[6.364,135.29],"range":[0,1040],"nice":false,"zero":false},"axis":null},"y":{"field":"row","type":"quantitative","scale":{"domain":[-1.5,-1,-0.5,0,1,2,5,6,9,10,11,14,15,18,18.5,19],"range":[3,20,39,57,94,131,203,241,313,350,387,459,497,569,588,602],"nice":false,"zero":false},"axis":null},"y2":{"field":"row"}}},
{"data":{"name":"res"},"transform":[{"filter":"datum.ds=='VOC' && datum.m=='BB'"}],"mark":{"type":"rule","color":"#eb6137","strokeWidth":1.1,"yOffset":-4,"y2Offset":2},"encoding":{"x":{"field":"hi","type":"quantitative","scale":{"domain":[6.364,135.29],"range":[0,1040],"nice":false,"zero":false},"axis":null},"y":{"field":"row","type":"quantitative","scale":{"domain":[-1.5,-1,-0.5,0,1,2,5,6,9,10,11,14,15,18,18.5,19],"range":[3,20,39,57,94,131,203,241,313,350,387,459,497,569,588,602],"nice":false,"zero":false},"axis":null},"y2":{"field":"row"}}},
{"data":{"name":"res"},"transform":[{"filter":"datum.ds=='VOC' && datum.m=='BB'"}],"mark":{"type":"rect","fill":"white","stroke":"#eb6137","strokeWidth":1.1,"yOffset":-5,"y2Offset":3},"encoding":{"x":{"field":"q1","type":"quantitative","scale":{"domain":[6.364,135.29],"range":[0,1040],"nice":false,"zero":false},"axis":null},"x2":{"field":"q3"},"y":{"field":"row","type":"quantitative","scale":{"domain":[-1.5,-1,-0.5,0,1,2,5,6,9,10,11,14,15,18,18.5,19],"range":[3,20,39,57,94,131,203,241,313,350,387,459,497,569,588,602],"nice":false,"zero":false},"axis":null},"y2":{"field":"row"}}},
{"data":{"name":"res"},"transform":[{"filter":"datum.ds=='VOC' && datum.m=='BB'"}],"mark":{"type":"rule","color":"#eb6137","strokeWidth":1.1,"yOffset":-5,"y2Offset":3},"encoding":{"x":{"field":"med","type":"quantitative","scale":{"domain":[6.364,135.29],"range":[0,1040],"nice":false,"zero":false},"axis":null},"y":{"field":"row","type":"quantitative","scale":{"domain":[-1.5,-1,-0.5,0,1,2,5,6,9,10,11,14,15,18,18.5,19],"range":[3,20,39,57,94,131,203,241,313,350,387,459,497,569,588,602],"nice":false,"zero":false},"axis":null},"y2":{"field":"row"}}},
{"data":{"name":"out"},"transform":[{"filter":"datum.ds=='VOC' && datum.m=='BB'"}],"mark":{"type":"point","shape":"M-1,-1L1,1M-1,1L1,-1","size":14,"stroke":"#eb6137","strokeWidth":1,"filled":false,"yOffset":-1},"encoding":{"x":{"field":"v","type":"quantitative","scale":{"domain":[6.364,135.29],"range":[0,1040],"nice":false,"zero":false},"axis":null},"y":{"field":"row","type":"quantitative","scale":{"domain":[-1.5,-1,-0.5,0,1,2,5,6,9,10,11,14,15,18,18.5,19],"range":[3,20,39,57,94,131,203,241,313,350,387,459,497,569,588,602],"nice":false,"zero":false},"axis":null}}},
{"data":{"name":"res"},"transform":[{"filter":"datum.ds=='VOC' && datum.m=='Identity'"}],"mark":{"type":"rule","color":"#8db33b","strokeWidth":1.1,"yOffset":7},"encoding":{"x":{"field":"lo","type":"quantitative","scale":{"domain":[6.364,135.29],"range":[0,1040],"nice":false,"zero":false},"axis":null},"x2":{"field":"hi"},"y":{"field":"row","type":"quantitative","scale":{"domain":[-1.5,-1,-0.5,0,1,2,5,6,9,10,11,14,15,18,18.5,19],"range":[3,20,39,57,94,131,203,241,313,350,387,459,497,569,588,602],"nice":false,"zero":false},"axis":null}}},
{"data":{"name":"res"},"transform":[{"filter":"datum.ds=='VOC' && datum.m=='Identity'"}],"mark":{"type":"rule","color":"#8db33b","strokeWidth":1.1,"yOffset":4,"y2Offset":10},"encoding":{"x":{"field":"lo","type":"quantitative","scale":{"domain":[6.364,135.29],"range":[0,1040],"nice":false,"zero":false},"axis":null},"y":{"field":"row","type":"quantitative","scale":{"domain":[-1.5,-1,-0.5,0,1,2,5,6,9,10,11,14,15,18,18.5,19],"range":[3,20,39,57,94,131,203,241,313,350,387,459,497,569,588,602],"nice":false,"zero":false},"axis":null},"y2":{"field":"row"}}},
{"data":{"name":"res"},"transform":[{"filter":"datum.ds=='VOC' && datum.m=='Identity'"}],"mark":{"type":"rule","color":"#8db33b","strokeWidth":1.1,"yOffset":4,"y2Offset":10},"encoding":{"x":{"field":"hi","type":"quantitative","scale":{"domain":[6.364,135.29],"range":[0,1040],"nice":false,"zero":false},"axis":null},"y":{"field":"row","type":"quantitative","scale":{"domain":[-1.5,-1,-0.5,0,1,2,5,6,9,10,11,14,15,18,18.5,19],"range":[3,20,39,57,94,131,203,241,313,350,387,459,497,569,588,602],"nice":false,"zero":false},"axis":null},"y2":{"field":"row"}}},
{"data":{"name":"res"},"transform":[{"filter":"datum.ds=='VOC' && datum.m=='Identity'"}],"mark":{"type":"rect","fill":"white","stroke":"#8db33b","strokeWidth":1.1,"yOffset":3,"y2Offset":11},"encoding":{"x":{"field":"q1","type":"quantitative","scale":{"domain":[6.364,135.29],"range":[0,1040],"nice":false,"zero":false},"axis":null},"x2":{"field":"q3"},"y":{"field":"row","type":"quantitative","scale":{"domain":[-1.5,-1,-0.5,0,1,2,5,6,9,10,11,14,15,18,18.5,19],"range":[3,20,39,57,94,131,203,241,313,350,387,459,497,569,588,602],"nice":false,"zero":false},"axis":null},"y2":{"field":"row"}}},
{"data":{"name":"res"},"transform":[{"filter":"datum.ds=='VOC' && datum.m=='Identity'"}],"mark":{"type":"rule","color":"#8db33b","strokeWidth":1.1,"yOffset":3,"y2Offset":11},"encoding":{"x":{"field":"med","type":"quantitative","scale":{"domain":[6.364,135.29],"range":[0,1040],"nice":false,"zero":false},"axis":null},"y":{"field":"row","type":"quantitative","scale":{"domain":[-1.5,-1,-0.5,0,1,2,5,6,9,10,11,14,15,18,18.5,19],"range":[3,20,39,57,94,131,203,241,313,350,387,459,497,569,588,602],"nice":false,"zero":false},"axis":null},"y2":{"field":"row"}}},
{"data":{"name":"out"},"transform":[{"filter":"datum.ds=='VOC' && datum.m=='Identity'"}],"mark":{"type":"point","shape":"M-1,-1L1,1M-1,1L1,-1","size":14,"stroke":"#8db33b","strokeWidth":1,"filled":false,"yOffset":7},"encoding":{"x":{"field":"v","type":"quantitative","scale":{"domain":[6.364,135.29],"range":[0,1040],"nice":false,"zero":false},"axis":null},"y":{"field":"row","type":"quantitative","scale":{"domain":[-1.5,-1,-0.5,0,1,2,5,6,9,10,11,14,15,18,18.5,19],"range":[3,20,39,57,94,131,203,241,313,350,387,459,497,569,588,602],"nice":false,"zero":false},"axis":null}}}
]},
{"layer":[
{"data":{"name":"rows"},"mark":{"type":"rule","color":"#c8c8c8","strokeWidth":1.3,"yOffset":-11,"y2Offset":16},"encoding":{"x":{"datum":65,"type":"quantitative","scale":{"domain":[-47.5,82.5],"range":[0,1040],"nice":false,"zero":false},"axis":null},"y":{"field":"row","aggregate":"min","type":"quantitative","scale":{"domain":[-1.5,-1,-0.5,0,1,2,5,6,9,10,11,14,15,18,18.5,19],"range":[3,20,39,57,94,131,203,241,313,350,387,459,497,569,588,602],"nice":false,"zero":false},"axis":null},"y2":{"field":"row","aggregate":"max"},"detail":{"field":"grp"}}},
{"data":{"name":"rows"},"mark":{"type":"rule","color":"#c8c8c8","strokeWidth":1.3,"yOffset":-11,"y2Offset":16},"encoding":{"x":{"datum":70,"type":"quantitative","scale":{"domain":[-47.5,82.5],"range":[0,1040],"nice":false,"zero":false},"axis":null},"y":{"field":"row","aggregate":"min","type":"quantitative","scale":{"domain":[-1.5,-1,-0.5,0,1,2,5,6,9,10,11,14,15,18,18.5,19],"range":[3,20,39,57,94,131,203,241,313,350,387,459,497,569,588,602],"nice":false,"zero":false},"axis":null},"y2":{"field":"row","aggregate":"max"},"detail":{"field":"grp"}}},
{"data":{"name":"rows"},"mark":{"type":"rule","color":"#c8c8c8","strokeWidth":1.3,"yOffset":-11,"y2Offset":16},"encoding":{"x":{"datum":75,"type":"quantitative","scale":{"domain":[-47.5,82.5],"range":[0,1040],"nice":false,"zero":false},"axis":null},"y":{"field":"row","aggregate":"min","type":"quantitative","scale":{"domain":[-1.5,-1,-0.5,0,1,2,5,6,9,10,11,14,15,18,18.5,19],"range":[3,20,39,57,94,131,203,241,313,350,387,459,497,569,588,602],"nice":false,"zero":false},"axis":null},"y2":{"field":"row","aggregate":"max"},"detail":{"field":"grp"}}},
{"data":{"name":"rows"},"mark":{"type":"rule","color":"#c8c8c8","strokeWidth":1.3,"yOffset":-11,"y2Offset":16},"encoding":{"x":{"datum":80,"type":"quantitative","scale":{"domain":[-47.5,82.5],"range":[0,1040],"nice":false,"zero":false},"axis":null},"y":{"field":"row","aggregate":"min","type":"quantitative","scale":{"domain":[-1.5,-1,-0.5,0,1,2,5,6,9,10,11,14,15,18,18.5,19],"range":[3,20,39,57,94,131,203,241,313,350,387,459,497,569,588,602],"nice":false,"zero":false},"axis":null},"y2":{"field":"row","aggregate":"max"},"detail":{"field":"grp"}}},
{"data":{"name":"ticks"},"mark":{"type":"text","align":"center","fontSize":13,"color":"#000000"},"encoding":{"x":{"field":"t","type":"quantitative","scale":{"domain":[-47.5,82.5],"range":[0,1040],"nice":false,"zero":false},"axis":null},"y":{"datum":19,"type":"quantitative","scale":{"domain":[-1.5,-1,-0.5,0,1,2,5,6,9,10,11,14,15,18,18.5,19],"range":[3,20,39,57,94,131,203,241,313,350,387,459,497,569,588,602],"nice":false,"zero":false},"axis":null},"text":{"field":"t","type":"quantitative"}}},
{"data":{"name":"res"},"transform":[{"filter":"datum.ds=='SPair' && datum.m=='BB'"}],"mark":{"type":"rule","color":"#eb6137","strokeWidth":1.1,"yOffset":-1},"encoding":{"x":{"field":"lo","type":"quantitative","scale":{"domain":[-47.5,82.5],"range":[0,1040],"nice":false,"zero":false},"axis":null},"x2":{"field":"hi"},"y":{"field":"row","type":"quantitative","scale":{"domain":[-1.5,-1,-0.5,0,1,2,5,6,9,10,11,14,15,18,18.5,19],"range":[3,20,39,57,94,131,203,241,313,350,387,459,497,569,588,602],"nice":false,"zero":false},"axis":null}}},
{"data":{"name":"res"},"transform":[{"filter":"datum.ds=='SPair' && datum.m=='BB'"}],"mark":{"type":"rule","color":"#eb6137","strokeWidth":1.1,"yOffset":-4,"y2Offset":2},"encoding":{"x":{"field":"lo","type":"quantitative","scale":{"domain":[-47.5,82.5],"range":[0,1040],"nice":false,"zero":false},"axis":null},"y":{"field":"row","type":"quantitative","scale":{"domain":[-1.5,-1,-0.5,0,1,2,5,6,9,10,11,14,15,18,18.5,19],"range":[3,20,39,57,94,131,203,241,313,350,387,459,497,569,588,602],"nice":false,"zero":false},"axis":null},"y2":{"field":"row"}}},
{"data":{"name":"res"},"transform":[{"filter":"datum.ds=='SPair' && datum.m=='BB'"}],"mark":{"type":"rule","color":"#eb6137","strokeWidth":1.1,"yOffset":-4,"y2Offset":2},"encoding":{"x":{"field":"hi","type":"quantitative","scale":{"domain":[-47.5,82.5],"range":[0,1040],"nice":false,"zero":false},"axis":null},"y":{"field":"row","type":"quantitative","scale":{"domain":[-1.5,-1,-0.5,0,1,2,5,6,9,10,11,14,15,18,18.5,19],"range":[3,20,39,57,94,131,203,241,313,350,387,459,497,569,588,602],"nice":false,"zero":false},"axis":null},"y2":{"field":"row"}}},
{"data":{"name":"res"},"transform":[{"filter":"datum.ds=='SPair' && datum.m=='BB'"}],"mark":{"type":"rect","fill":"white","stroke":"#eb6137","strokeWidth":1.1,"yOffset":-5,"y2Offset":3},"encoding":{"x":{"field":"q1","type":"quantitative","scale":{"domain":[-47.5,82.5],"range":[0,1040],"nice":false,"zero":false},"axis":null},"x2":{"field":"q3"},"y":{"field":"row","type":"quantitative","scale":{"domain":[-1.5,-1,-0.5,0,1,2,5,6,9,10,11,14,15,18,18.5,19],"range":[3,20,39,57,94,131,203,241,313,350,387,459,497,569,588,602],"nice":false,"zero":false},"axis":null},"y2":{"field":"row"}}},
{"data":{"name":"res"},"transform":[{"filter":"datum.ds=='SPair' && datum.m=='BB'"}],"mark":{"type":"rule","color":"#eb6137","strokeWidth":1.1,"yOffset":-5,"y2Offset":3},"encoding":{"x":{"field":"med","type":"quantitative","scale":{"domain":[-47.5,82.5],"range":[0,1040],"nice":false,"zero":false},"axis":null},"y":{"field":"row","type":"quantitative","scale":{"domain":[-1.5,-1,-0.5,0,1,2,5,6,9,10,11,14,15,18,18.5,19],"range":[3,20,39,57,94,131,203,241,313,350,387,459,497,569,588,602],"nice":false,"zero":false},"axis":null},"y2":{"field":"row"}}},
{"data":{"name":"out"},"transform":[{"filter":"datum.ds=='SPair' && datum.m=='BB'"}],"mark":{"type":"point","shape":"M-1,-1L1,1M-1,1L1,-1","size":14,"stroke":"#eb6137","strokeWidth":1,"filled":false,"yOffset":-1},"encoding":{"x":{"field":"v","type":"quantitative","scale":{"domain":[-47.5,82.5],"range":[0,1040],"nice":false,"zero":false},"axis":null},"y":{"field":"row","type":"quantitative","scale":{"domain":[-1.5,-1,-0.5,0,1,2,5,6,9,10,11,14,15,18,18.5,19],"range":[3,20,39,57,94,131,203,241,313,350,387,459,497,569,588,602],"nice":false,"zero":false},"axis":null}}},
{"data":{"name":"res"},"transform":[{"filter":"datum.ds=='SPair' && datum.m=='Identity'"}],"mark":{"type":"rule","color":"#8db33b","strokeWidth":1.1,"yOffset":7},"encoding":{"x":{"field":"lo","type":"quantitative","scale":{"domain":[-47.5,82.5],"range":[0,1040],"nice":false,"zero":false},"axis":null},"x2":{"field":"hi"},"y":{"field":"row","type":"quantitative","scale":{"domain":[-1.5,-1,-0.5,0,1,2,5,6,9,10,11,14,15,18,18.5,19],"range":[3,20,39,57,94,131,203,241,313,350,387,459,497,569,588,602],"nice":false,"zero":false},"axis":null}}},
{"data":{"name":"res"},"transform":[{"filter":"datum.ds=='SPair' && datum.m=='Identity'"}],"mark":{"type":"rule","color":"#8db33b","strokeWidth":1.1,"yOffset":4,"y2Offset":10},"encoding":{"x":{"field":"lo","type":"quantitative","scale":{"domain":[-47.5,82.5],"range":[0,1040],"nice":false,"zero":false},"axis":null},"y":{"field":"row","type":"quantitative","scale":{"domain":[-1.5,-1,-0.5,0,1,2,5,6,9,10,11,14,15,18,18.5,19],"range":[3,20,39,57,94,131,203,241,313,350,387,459,497,569,588,602],"nice":false,"zero":false},"axis":null},"y2":{"field":"row"}}},
{"data":{"name":"res"},"transform":[{"filter":"datum.ds=='SPair' && datum.m=='Identity'"}],"mark":{"type":"rule","color":"#8db33b","strokeWidth":1.1,"yOffset":4,"y2Offset":10},"encoding":{"x":{"field":"hi","type":"quantitative","scale":{"domain":[-47.5,82.5],"range":[0,1040],"nice":false,"zero":false},"axis":null},"y":{"field":"row","type":"quantitative","scale":{"domain":[-1.5,-1,-0.5,0,1,2,5,6,9,10,11,14,15,18,18.5,19],"range":[3,20,39,57,94,131,203,241,313,350,387,459,497,569,588,602],"nice":false,"zero":false},"axis":null},"y2":{"field":"row"}}},
{"data":{"name":"res"},"transform":[{"filter":"datum.ds=='SPair' && datum.m=='Identity'"}],"mark":{"type":"rect","fill":"white","stroke":"#8db33b","strokeWidth":1.1,"yOffset":3,"y2Offset":11},"encoding":{"x":{"field":"q1","type":"quantitative","scale":{"domain":[-47.5,82.5],"range":[0,1040],"nice":false,"zero":false},"axis":null},"x2":{"field":"q3"},"y":{"field":"row","type":"quantitative","scale":{"domain":[-1.5,-1,-0.5,0,1,2,5,6,9,10,11,14,15,18,18.5,19],"range":[3,20,39,57,94,131,203,241,313,350,387,459,497,569,588,602],"nice":false,"zero":false},"axis":null},"y2":{"field":"row"}}},
{"data":{"name":"res"},"transform":[{"filter":"datum.ds=='SPair' && datum.m=='Identity'"}],"mark":{"type":"rule","color":"#8db33b","strokeWidth":1.1,"yOffset":3,"y2Offset":11},"encoding":{"x":{"field":"med","type":"quantitative","scale":{"domain":[-47.5,82.5],"range":[0,1040],"nice":false,"zero":false},"axis":null},"y":{"field":"row","type":"quantitative","scale":{"domain":[-1.5,-1,-0.5,0,1,2,5,6,9,10,11,14,15,18,18.5,19],"range":[3,20,39,57,94,131,203,241,313,350,387,459,497,569,588,602],"nice":false,"zero":false},"axis":null},"y2":{"field":"row"}}},
{"data":{"name":"out"},"transform":[{"filter":"datum.ds=='SPair' && datum.m=='Identity'"}],"mark":{"type":"point","shape":"M-1,-1L1,1M-1,1L1,-1","size":14,"stroke":"#8db33b","strokeWidth":1,"filled":false,"yOffset":7},"encoding":{"x":{"field":"v","type":"quantitative","scale":{"domain":[-47.5,82.5],"range":[0,1040],"nice":false,"zero":false},"axis":null},"y":{"field":"row","type":"quantitative","scale":{"domain":[-1.5,-1,-0.5,0,1,2,5,6,9,10,11,14,15,18,18.5,19],"range":[3,20,39,57,94,131,203,241,313,350,387,459,497,569,588,602],"nice":false,"zero":false},"axis":null}}}
]}
]
}
